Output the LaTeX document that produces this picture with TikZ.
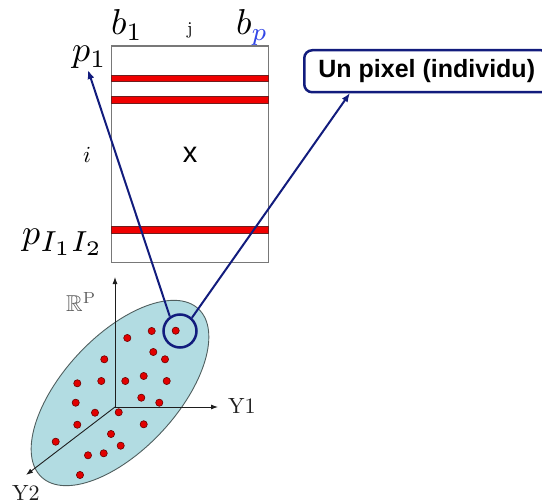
\RequirePackage{fix-cm}
\documentclass[tikz,border=0pt]{standalone}
\usepackage{fontspec}
\usepackage{amssymb}
\newfontfamily\arialfont{Liberation Sans}
\definecolor{navyline}{RGB}{18,28,125}
\definecolor{bandred}{RGB}{240,0,0}
\definecolor{bandedge}{RGB}{110,30,30}
\definecolor{frame}{RGB}{120,120,120}
\definecolor{cloud}{RGB}{178,220,226}
\definecolor{cloudedge}{RGB}{80,95,95}
\definecolor{dotred}{RGB}{225,0,0}
\definecolor{dotedge}{RGB}{110,0,0}
\definecolor{axisgray}{RGB}{30,30,30}
\definecolor{labelgray}{RGB}{95,95,95}
\definecolor{subblue}{RGB}{50,70,230}
\usetikzlibrary{arrows.meta}
\newcommand{\hugelabel}[1]{\scalebox{3.6}{$#1$}}
\begin{document}
\begin{tikzpicture}[x=1pt,y=1pt,
  bigmath/.style={inner sep=0pt, anchor=base west},
  band/.style={fill=bandred, draw=bandedge, line width=0.6pt},
  dotstyle/.style={fill=dotred, draw=dotedge, line width=0.6pt},
  axisline/.style={draw=axisgray, line width=0.9pt, -{Latex[length=7pt,width=5pt]}},
  navyarrow/.style={draw=navyline, line width=2pt, -{Latex[length=9pt,width=7pt]}},
  pixbox/.style={draw=navyline, line width=2.5pt, rounded corners=8pt, fill=white,
    font=\arialfont\bfseries\fontsize{25}{28}\selectfont, inner sep=0pt,
    minimum width=245pt, minimum height=42pt, anchor=north west},
  axlabel/.style={inner sep=0pt, anchor=base west}
]
\useasboundingbox (0,0) rectangle (542,-503);

% data matrix
\node[draw=frame, line width=1.4pt, minimum width=157pt, minimum height=216.5pt, inner sep=0pt, anchor=north west] (mat) at (111,-45.5) {};
\fill[band] (111,-75.5) rectangle (268,-81.5);
\fill[band] (111,-96.5) rectangle (268,-103);
\fill[band] (111,-226.5) rectangle (268,-233);

\node[bigmath] (b1) at (111,-35) {\hugelabel{b_1}};
\node[inner sep=0pt, anchor=base] (j) at (190,-35) {\scalebox{1.8}{j}};
\node[bigmath] (bp) at (236,-35) {\hugelabel{b_{\color{subblue}p}}};
\node[bigmath] (p1) at (72,-62) {\hugelabel{p_1}};
\node[inner sep=0pt, anchor=base west] (i) at (83,-163) {\scalebox{2.3}{$i$}};
\node[inner sep=0pt, anchor=base, font=\arialfont\fontsize{29}{31}\selectfont] (x) at (190,-163) {x};
\node[bigmath] (pI) at (22,-244) {\hugelabel{p_{\scalebox{1.15}{$\scriptstyle I_1I_2$}}}};

% point cloud
\draw[fill=cloud, draw=cloudedge, line width=0.9pt, rotate around={47:(120,-393)}] (120,-393) ellipse [x radius=115, y radius=57];

\coordinate (O) at (115,-407);
\coordinate (ztip) at (115,-277);
\coordinate (y1tip) at (218,-407);
\coordinate (y2tip) at (26,-475);
\draw[axisline] (O) -- (ztip);
\draw[axisline] (O) -- (y1tip);
\draw[axisline] (O) -- (y2tip);

\node[axlabel, text=labelgray] (Rp) at (66,-312) {\scalebox{2.3}{$\mathbb{R}^{\mathrm{P}}$}};
\node[axlabel, text=axisgray] (Y1) at (228,-413) {\scalebox{2.2}{Y1}};
\node[axlabel, text=axisgray] (Y2) at (12,-500) {\scalebox{2.2}{Y2}};

\foreach \px/\py in {151.7/331,175.7/330.7,127.3/338,153.3/352,165/359.3,104.3/359.3,
  77.3/383.3,101.3/381,125.3/381,143.7/376,166.7/381,75.7/402.7,141.3/397.7,159.3/402.7,
  95/412.7,118.7/412.3,77.3/424.7,143.7/424.3,111/434,55.7/441.7,120.7/445.7,88/455.3,
  103.7/453.3,80/475}
  \draw[dotstyle] (\px,-\py) circle [radius=3.6];

% selected pixel
\node[draw=navyline, line width=2.5pt, circle, minimum size=33pt, inner sep=0pt] (pix) at (180,-331) {};

\node[pixbox] (box) at (303,-49) {Un pixel (individu)};

\coordinate (tipA) at (88,-70);
\coordinate (tipB) at (350,-93);
\draw[navyarrow] (pix.125) -- (tipA);
\draw[navyarrow] (pix.48) -- (tipB);
\end{tikzpicture}
\end{document}
